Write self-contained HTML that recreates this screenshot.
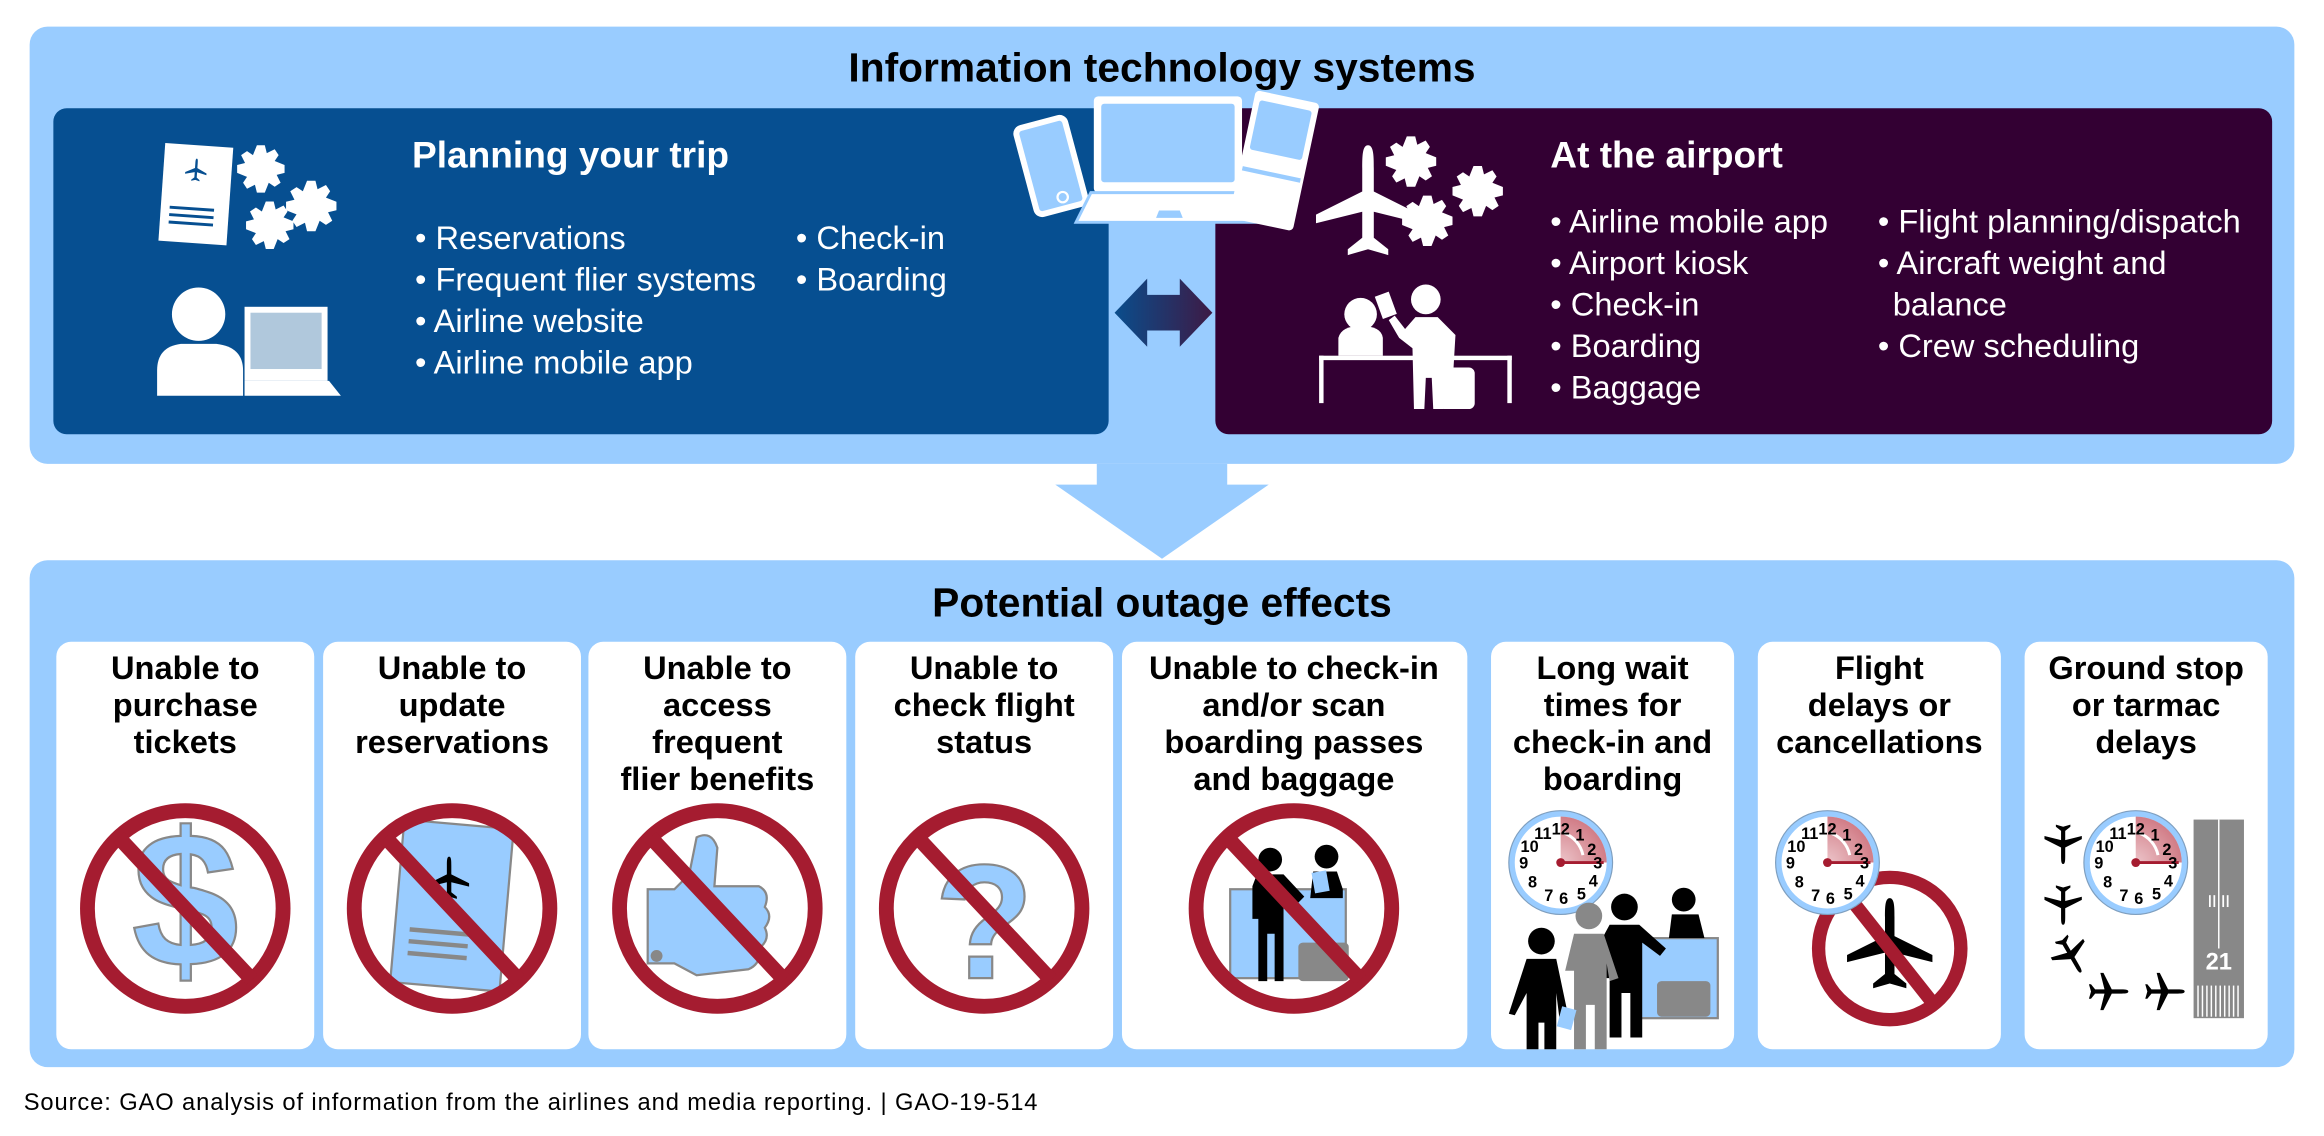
<!DOCTYPE html>
<html><head><meta charset="utf-8"><style>
html,body{margin:0;padding:0;background:#fff;}
svg{display:block;}
text{font-family:"Liberation Sans",Arial,sans-serif;}
</style></head><body>
<svg width="2324" height="1136" viewBox="0 0 1568 766.5" preserveAspectRatio="none" xmlns="http://www.w3.org/2000/svg">
<defs>
<linearGradient id="dbl" x1="0" x2="1"><stop offset="0" stop-color="#0a4d8c"/><stop offset="1" stop-color="#3d1a45"/></linearGradient>
<radialGradient id="wedge" cx="0" cy="1" r="1"><stop offset="0" stop-color="#fff"/><stop offset="1" stop-color="#c9707a"/></radialGradient>
<symbol id="plane" viewBox="-20 -20 40 40" overflow="visible">
<path d="M0,-20 C2,-20 2,-16 2,-12 L2,-4 L18,4 L18,7 L2,3 L2,12 L7,16 L7,18 L0,16 L-7,18 L-7,16 L-2,12 L-2,3 L-18,7 L-18,4 L-2,-4 L-2,-12 C-2,-16 -2,-20 0,-20Z"/>
</symbol>
<symbol id="clock" viewBox="-36 -36 72 72" overflow="visible">
<circle r="33" fill="#fff" stroke="#99ccff" stroke-width="4"/>
<circle r="35" fill="none" stroke="#7f9fbf" stroke-width="0.8"/>
<path d="M0,0 L0,-31 A31,31 0 0 1 31,0 Z" fill="url(#wedge)"/>
<path d="M0,0 L0,-31 A31,31 0 0 1 31,0 Z" fill="#d98a93" opacity="0.5"/>
<line x1="0" y1="0" x2="29" y2="0" stroke="#a51c30" stroke-width="2"/>
<circle r="3" fill="#a51c30"/>
<path d="M2,-20 A20,20 0 0 1 15,-5" fill="none" stroke="#fff" stroke-width="2"/>
<g font-size="11" font-weight="bold" text-anchor="middle" fill="#000">
<text x="0" y="-19">12</text><text x="13" y="-15">1</text><text x="21" y="-5">2</text><text x="25" y="4">3</text>
<text x="22" y="16">4</text><text x="14" y="25">5</text><text x="2" y="28">6</text><text x="-8" y="26">7</text>
<text x="-19" y="17">8</text><text x="-25" y="4">9</text><text x="-21" y="-7">10</text><text x="-12" y="-16">11</text>
</g>
</symbol>
<symbol id="gear" viewBox="-12 -12 24 24" overflow="visible">
<path d="M-2,-12 L2,-12 L3,-8 L7,-10 L9,-7 L7,-4 L12,-2 L12,2 L8,3 L10,7 L7,9 L4,7 L2,12 L-2,12 L-3,8 L-7,10 L-9,7 L-7,4 L-12,2 L-12,-2 L-8,-3 L-10,-7 L-7,-9 L-4,-7 Z"/>
</symbol>
</defs>

<!-- TOP BOX -->
<rect x="20" y="18" width="1528" height="295" rx="12" fill="#99ccff"/>
<text x="784" y="55" font-size="27.5" font-weight="bold" text-anchor="middle">Information technology systems</text>
<rect x="36" y="73" width="712" height="220" rx="9" fill="#064f91"/>
<rect x="820" y="73" width="713" height="220" rx="9" fill="#330033"/>

<path d="M752,211 L774,188 L774,199 L796,199 L796,188 L818,211 L796,234 L796,223 L774,223 L774,234 Z" fill="url(#dbl)"/>

<!-- devices -->
<g>
<rect x="692" y="82" width="34" height="60" rx="4" fill="#99ccff" stroke="#fff" stroke-width="4" transform="rotate(-15 709 112)"/>
<circle cx="717" cy="133" r="3.5" fill="#99ccff" stroke="#fff" stroke-width="1.5"/>
<rect x="738" y="65" width="100" height="65" rx="3" fill="#fff"/>
<rect x="743" y="70" width="90" height="53" rx="2" fill="#99ccff"/>
<path d="M736,130 L840,130 L852,150 L726,150 Z" fill="#fff" stroke="#99ccff" stroke-width="2"/>
<path d="M782,142 L796,142 L798,147 L780,147 Z" fill="#99ccff"/>
<g transform="rotate(12 858 107)">
<rect x="838" y="64" width="44" height="88" rx="3" fill="#fff"/>
<rect x="842" y="70" width="36" height="34" rx="2" fill="#99ccff"/>
<rect x="840" y="116" width="40" height="3" fill="#99ccff"/>
</g>
</g>

<!-- left icons -->
<g transform="rotate(4 132 133)">
<rect x="109" y="98" width="46" height="66" fill="#fff"/>
<use href="#plane" x="123" y="107" width="16" height="16" fill="#064f91"/>
<rect x="115" y="140" width="30" height="2" fill="#064f91"/>
<rect x="115" y="145" width="30" height="2" fill="#064f91"/>
<rect x="115" y="150" width="30" height="2" fill="#064f91"/>
</g>
<g fill="#fff">
<use href="#gear" x="160" y="98" width="32" height="32"/>
<use href="#gear" x="193" y="122" width="34" height="34"/>
<use href="#gear" x="166" y="136" width="32" height="32"/>
</g>
<circle cx="134" cy="212" r="18" fill="#fff"/>
<path d="M106,267 L106,250 Q106,234 122,232 L146,232 Q164,234 164,250 L164,267 Z" fill="#fff"/>
<rect x="165" y="207" width="56" height="50" fill="#fff"/>
<rect x="169" y="211" width="48" height="38" fill="#b0c8dc"/>
<path d="M165,257 L222,257 L230,267 L165,267 Z" fill="#fff"/>

<g fill="#fff" font-size="22">
<text x="278" y="113" font-size="25" font-weight="bold">Planning your trip</text>
<text x="280" y="168">• Reservations</text>
<text x="280" y="196">• Frequent flier systems</text>
<text x="280" y="224">• Airline website</text>
<text x="280" y="252">• Airline mobile app</text>
<text x="537" y="168">• Check-in</text>
<text x="537" y="196">• Boarding</text>
</g>

<!-- right icons -->
<g fill="#fff">
<use href="#plane" x="884" y="98" width="78" height="78"/>
<use href="#gear" x="935" y="92" width="34" height="34"/>
<use href="#gear" x="980" y="112" width="34" height="34"/>
<use href="#gear" x="946" y="132" width="34" height="34"/>
<circle cx="918" cy="212" r="11"/>
<path d="M903,240 L903,228 Q905,220 918,220 Q932,220 933,228 L933,240 Z"/>
<rect x="890" y="240" width="130" height="3"/>
<rect x="890" y="240" width="3" height="32"/>
<rect x="1017" y="240" width="3" height="32"/>
<circle cx="962" cy="202" r="10"/>
<path d="M955,214 L970,214 L982,226 L980,260 L974,260 L974,276 L967,276 L966,255 L962,255 L961,276 L954,276 L953,235 L944,228 L937,216 L941,213 L948,222 Z"/>
<rect x="930" y="198" width="10" height="16" transform="rotate(-20 935 206)"/>
<rect x="971" y="248" width="24" height="28" rx="4"/>
</g>

<g fill="#fff" font-size="22">
<text x="1046" y="113" font-size="25" font-weight="bold">At the airport</text>
<text x="1046" y="157">• Airline mobile app</text>
<text x="1046" y="185">• Airport kiosk</text>
<text x="1046" y="213">• Check-in</text>
<text x="1046" y="241">• Boarding</text>
<text x="1046" y="269">• Baggage</text>
<text x="1267" y="157">• Flight planning/dispatch</text>
<text x="1267" y="185">• Aircraft weight and</text>
<text x="1277" y="213">balance</text>
<text x="1267" y="241">• Crew scheduling</text>
</g>

<path d="M740,313 L828,313 L828,327 L856,327 L784,377 L712,327 L740,327 Z" fill="#99ccff"/>

<!-- BOTTOM BOX -->
<rect x="20" y="378" width="1528" height="342" rx="12" fill="#99ccff"/>
<text x="784" y="416" font-size="27.5" font-weight="bold" text-anchor="middle">Potential outage effects</text>

<g fill="#fff">
<rect x="38" y="433" width="174" height="275" rx="10"/>
<rect x="218" y="433" width="174" height="275" rx="10"/>
<rect x="397" y="433" width="174" height="275" rx="10"/>
<rect x="577" y="433" width="174" height="275" rx="10"/>
<rect x="757" y="433" width="233" height="275" rx="10"/>
<rect x="1006" y="433" width="164" height="275" rx="10"/>
<rect x="1186" y="433" width="164" height="275" rx="10"/>
<rect x="1366" y="433" width="164" height="275" rx="10"/>
</g>

<g font-size="22" font-weight="bold" text-anchor="middle">
<text x="125" y="458">Unable to</text><text x="125" y="483">purchase</text><text x="125" y="508">tickets</text>
<text x="305" y="458">Unable to</text><text x="305" y="483">update</text><text x="305" y="508">reservations</text>
<text x="484" y="458">Unable to</text><text x="484" y="483">access</text><text x="484" y="508">frequent</text><text x="484" y="533">flier benefits</text>
<text x="664" y="458">Unable to</text><text x="664" y="483">check flight</text><text x="664" y="508">status</text>
<text x="873" y="458">Unable to check-in</text><text x="873" y="483">and/or scan</text><text x="873" y="508">boarding passes</text><text x="873" y="533">and baggage</text>
<text x="1088" y="458">Long wait</text><text x="1088" y="483">times for</text><text x="1088" y="508">check-in and</text><text x="1088" y="533">boarding</text>
<text x="1268" y="458">Flight</text><text x="1268" y="483">delays or</text><text x="1268" y="508">cancellations</text>
<text x="1448" y="458">Ground stop</text><text x="1448" y="483">or tarmac</text><text x="1448" y="508">delays</text>
</g>

<text x="125" y="652" font-size="130" font-weight="bold" text-anchor="middle" fill="#99ccff" stroke="#888" stroke-width="1.5">$</text>
<g transform="rotate(5 305 610)">
<rect x="268" y="556" width="74" height="110" fill="#99ccff" stroke="#888" stroke-width="1.5"/>
<rect x="278" y="628" width="40" height="3" fill="#888"/>
<rect x="278" y="636" width="40" height="3" fill="#888"/>
<rect x="278" y="644" width="40" height="3" fill="#888"/>
</g>
<use href="#plane" x="288" y="578" width="30" height="30" fill="#000"/>
<path d="M437,600 L455,600 L465,590 L470,565 Q480,560 484,572 L482,598 L512,598 Q520,602 516,612 Q522,618 516,626 Q520,634 512,640 Q514,650 505,654 L470,658 L455,650 L437,650 Z" fill="#99ccff" stroke="#888" stroke-width="1.5"/>
<circle cx="443" cy="645" r="4" fill="#888"/>
<text x="664" y="660" font-size="110" font-weight="bold" text-anchor="middle" fill="#99ccff" stroke="#888" stroke-width="1.5">?</text>
<rect x="830" y="600" width="78" height="60" fill="#99ccff" stroke="#888" stroke-width="1.5"/>
<rect x="876" y="636" width="34" height="26" rx="3" fill="#888"/>
<g fill="#000">
<circle cx="857" cy="580" r="8"/>
<path d="M848,590 L866,590 L880,605 L876,609 L866,600 L866,662 L860,662 L860,630 L855,630 L855,662 L849,662 L849,620 L845,620 L845,598 Z"/>
<circle cx="895" cy="578" r="8"/>
<path d="M886,588 L902,588 L906,600 L906,606 L884,606 Z"/>
</g>
<rect x="886" y="588" width="10" height="14" fill="#99ccff" transform="rotate(-10 891 595)"/>

<g fill="none" stroke="#a51c30" stroke-width="10">
<circle cx="125" cy="613" r="66"/><line x1="80" y1="565" x2="170" y2="661"/>
<circle cx="305" cy="613" r="66"/><line x1="260" y1="565" x2="350" y2="661"/>
<circle cx="484" cy="613" r="66"/><line x1="439" y1="565" x2="529" y2="661"/>
<circle cx="664" cy="613" r="66"/><line x1="619" y1="565" x2="709" y2="661"/>
<circle cx="873" cy="613" r="66"/><line x1="828" y1="565" x2="918" y2="661"/>
</g>

<!-- icon 6 -->
<rect x="1103" y="633" width="56" height="54" fill="#99ccff" stroke="#888" stroke-width="1.5"/>
<rect x="1118" y="662" width="36" height="24" rx="3" fill="#888"/>
<use href="#clock" x="1017" y="546" width="72" height="72"/>
<g fill="#000">
<circle cx="1136" cy="607" r="8"/><path d="M1128,617 L1146,617 L1150,633 L1126,633 Z"/>
<circle cx="1096" cy="612" r="9"/><path d="M1086,624 L1106,624 L1124,640 L1120,645 L1108,636 L1108,700 L1100,700 L1100,670 L1094,670 L1094,700 L1086,700 L1086,660 L1080,660 L1080,635 Z"/>
</g>
<g fill="#888"><circle cx="1072" cy="618" r="9"/><path d="M1062,630 L1082,630 L1092,660 L1086,662 L1084,650 L1084,708 L1076,708 L1076,678 L1070,678 L1070,708 L1062,708 L1062,655 L1056,655 Z"/></g>
<g fill="#000"><circle cx="1040" cy="635" r="9"/><path d="M1030,647 L1050,647 L1058,685 L1052,686 L1050,670 L1050,708 L1042,708 L1042,690 L1038,690 L1038,708 L1030,708 L1030,670 L1022,685 L1018,684 Z"/></g>
<rect x="1052" y="680" width="10" height="14" fill="#99ccff" transform="rotate(15 1057 687)"/>

<!-- icon 7 -->
<circle cx="1275" cy="640" r="48" fill="none" stroke="#a51c30" stroke-width="9"/>
<use href="#plane" x="1243" y="606" width="64" height="64" fill="#000"/>
<line x1="1245" y1="602" x2="1305" y2="678" stroke="#a51c30" stroke-width="9"/>
<use href="#clock" x="1197" y="546" width="72" height="72"/>

<!-- icon 8 -->
<rect x="1480" y="553" width="34" height="134" fill="#888"/>
<line x1="1497" y1="553" x2="1497" y2="640" stroke="#fff" stroke-width="1"/>
<g stroke="#fff" stroke-width="1.2"><line x1="1491" y1="604" x2="1491" y2="612"/><line x1="1494" y1="604" x2="1494" y2="612"/><line x1="1500" y1="604" x2="1500" y2="612"/><line x1="1503" y1="604" x2="1503" y2="612"/></g>
<text x="1497" y="654" font-size="16" font-weight="bold" fill="#fff" text-anchor="middle">21</text>
<g stroke="#fff" stroke-width="1"><line x1="1483" y1="665" x2="1483" y2="686"/><line x1="1486" y1="665" x2="1486" y2="686"/><line x1="1489" y1="665" x2="1489" y2="686"/><line x1="1492" y1="665" x2="1492" y2="686"/><line x1="1495" y1="665" x2="1495" y2="686"/><line x1="1498" y1="665" x2="1498" y2="686"/><line x1="1501" y1="665" x2="1501" y2="686"/><line x1="1504" y1="665" x2="1504" y2="686"/><line x1="1507" y1="665" x2="1507" y2="686"/><line x1="1510" y1="665" x2="1510" y2="686"/></g>
<use href="#clock" x="1405" y="546" width="72" height="72"/>
<g fill="#000">
<use href="#plane" x="1378" y="555" width="28" height="28" transform="rotate(180 1392 569)"/>
<use href="#plane" x="1378" y="596" width="28" height="28" transform="rotate(180 1392 610)"/>
<use href="#plane" x="1383" y="630" width="28" height="28" transform="rotate(150 1397 644)"/>
<use href="#plane" x="1408" y="655" width="28" height="28" transform="rotate(90 1422 669)"/>
<use href="#plane" x="1446" y="655" width="28" height="28" transform="rotate(90 1460 669)"/>
</g>

<text x="16" y="749" font-size="16" textLength="684" lengthAdjust="spacing" fill="#000">Source: GAO analysis of information from the airlines and media reporting.  |  GAO-19-514</text>
</svg>
</body></html>
